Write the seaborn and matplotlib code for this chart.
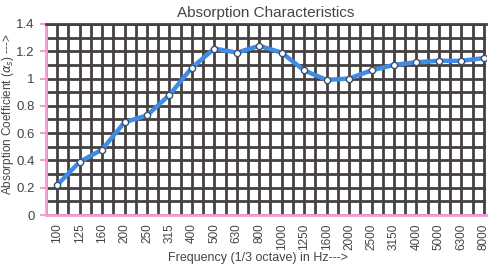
import matplotlib
matplotlib.use("Agg")
import matplotlib.pyplot as plt
import seaborn as sns
import pandas as pd
import numpy as np
from matplotlib.ticker import MultipleLocator

freqs = ["100", "125", "160", "200", "250", "315", "400", "500", "630", "800",
         "1000", "1250", "1600", "2000", "2500", "3150", "4000", "5000", "6300", "8000"]
alpha = [0.22, 0.39, 0.48, 0.68, 0.73, 0.88, 1.08, 1.22, 1.19, 1.24,
         1.19, 1.06, 0.99, 1.00, 1.06, 1.10, 1.12, 1.13, 1.13, 1.15]
yticks = [0, 0.2, 0.4, 0.6, 0.8, 1, 1.2, 1.4]
ytick_labels = ["0", "0.2", "0.4", "0.6", "0.8", "1", "1.2", "1.4"]

sns.set_theme(style="white")
plt.rcParams['font.family'] = ['Liberation Sans', 'DejaVu Sans']

df = pd.DataFrame({"pos": np.arange(len(freqs)), "alpha": alpha})

W, H = 492, 266
fig = plt.figure(figsize=(W/100, H/100), dpi=100)
ax = fig.add_axes([46/W, 1-215/H, (486-46)/W, (215-24)/H])

grid_c = "#454141"
ax.set_xlim(-0.5, 19.1)
ax.set_ylim(0, 1.4)
ax.xaxis.set_minor_locator(MultipleLocator(0.5))
ax.yaxis.set_minor_locator(MultipleLocator(0.1))
ax.set_xticks(range(len(freqs)))
ax.set_xticklabels(freqs, rotation=90)
ax.set_yticks(yticks)
ax.set_yticklabels(ytick_labels)
ax.grid(True, which="both", color=grid_c, linewidth=2.0)
ax.set_axisbelow(True)

sns.lineplot(data=df, x="pos", y="alpha", ax=ax, color="#3f8ce6", linewidth=3.2,
             marker="o", markersize=4.5, markerfacecolor="white",
             markeredgecolor="#3b4f6e", markeredgewidth=1.0, zorder=5)
for l in ax.get_lines():
    l.set_solid_joinstyle("round")
    l.set_solid_capstyle("round")

pink = "#f59bd6"
ax.spines["left"].set_color(pink)
ax.spines["bottom"].set_color(pink)
ax.spines["left"].set_linewidth(2)
ax.spines["bottom"].set_linewidth(2)
ax.spines["right"].set_visible(False)
ax.spines["top"].set_color(grid_c)
ax.spines["top"].set_linewidth(2.0)

txt_c = "#444444"
ax.tick_params(axis="y", which="major", left=True, length=4, width=1.5, color=pink,
               labelsize=9.5, labelcolor=txt_c, pad=4)
ax.tick_params(axis="y", which="minor", left=False)
ax.tick_params(axis="x", which="both", bottom=False, length=0, labelsize=8.5,
               labelcolor=txt_c, pad=6)

ax.set_xlabel("")
ax.set_ylabel("")
fig.text(258/W, 1-258/H, "Frequency (1/3 octave) in Hz--->", fontsize=9, color=txt_c,
         ha="center", va="center")
fig.text(8/W, 1-114/H, r"Absorption Coefficient ($\alpha_s$) --->", fontsize=8.5,
         color=txt_c, ha="center", va="center", rotation=90)
ax.set_title("Absorption Characteristics", fontsize=11, color=txt_c, pad=5)

fig.savefig("out.png", dpi=100, facecolor="white")
